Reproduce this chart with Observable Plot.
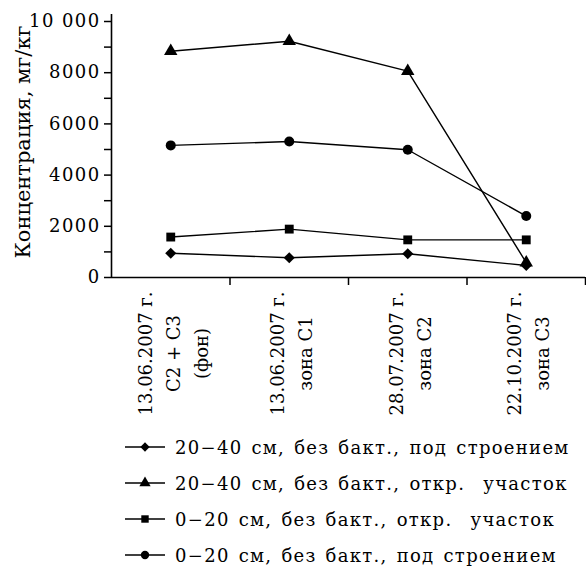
<!DOCTYPE html>
<html><head><meta charset="utf-8">
<script src="https://cdn.jsdelivr.net/npm/d3@7"></script>
<script src="https://cdn.jsdelivr.net/npm/@observablehq/plot@0.6"></script>
<style>
body{margin:0;background:#fff;font-family:"DejaVu Serif","Liberation Serif",serif;color:#000;}
#legend{padding-top:4px;}
.row{display:flex;align-items:center;height:36px;padding-left:125px;font-size:18px;letter-spacing:1.3px;word-spacing:2px;white-space:pre;}
.row svg{margin-right:10px;}
#chart g[aria-label="y-axis tick label"] text{letter-spacing:1.4px;}
#chart g[aria-label="xlabels"]{letter-spacing:0.4px;}
#chart g[aria-label="ytitle"]{letter-spacing:2px;word-spacing:5px;}
</style></head><body>
<div id="chart"></div><div id="legend"></div>
<script>
const categories = [
  "13.06.2007 г.\nС2 + С3\n(фон)",
  "13.06.2007 г.\nзона С1",
  "28.07.2007 г.\nзона С2",
  "22.10.2007 г.\nзона С3"
];
const seriesNames = [
  "20−40 см, без бакт., под строением",
  "20−40 см, без бакт., откр.  участок",
  "0−20 см, без бакт., откр.  участок",
  "0−20 см, без бакт., под строением"
];
const seriesSymbols = ["diamond2", "triangle", "square", "circle"];
const diamondValues  = [950, 770, 930, 470];
const triangleValues = [8840, 9230, 8060, 580];
const squareValues   = [1580, 1890, 1470, 1470];
const circleValues   = [5160, 5310, 4990, 2400];
const yTicks = [0, 1000, 2000, 3000, 4000, 5000, 6000, 7000, 8000, 9000, 10000];
const yLabelTicks = [0, 2000, 4000, 6000, 8000, 10000];
const yTitle = "Концентрация, мг/кг";

const FONT = '"DejaVu Serif", "Liberation Serif", serif';
const valueArrays = [diamondValues, triangleValues, squareValues, circleValues];
const drawOrder = [1, 3, 2, 0];
const data = [];
for (const k of drawOrder) valueArrays[k].forEach((v, i) => data.push({series: seriesNames[k], i, v}));
const xBoundaries = categories.map((c, i) => i + 0.5);
const fmt = d => yLabelTicks.includes(d) ? (d >= 10000 ? "10 000" : String(d)) : "";

const chart = Plot.plot({
  width: 586, height: 425,
  marginLeft: 111, marginRight: 1, marginTop: 14, marginBottom: 148,
  style: `font-family: ${FONT}; font-size: 18px; color: #000; background: #fff;`,
  x: {domain: [-0.5, categories.length - 0.5]},
  y: {domain: [0, 10000], insetTop: 7},
  symbol: {domain: seriesNames, range: seriesSymbols},
  marks: [
    Plot.axisY({ticks: yTicks, tickSize: 7, tickPadding: 4, tickFormat: fmt, strokeWidth: 1.5, label: null, fontFamily: FONT}),
    Plot.axisX({ticks: xBoundaries, tickSize: 8, tickFormat: () => "", strokeWidth: 1.5, label: null}),
    Plot.ruleY([0], {strokeWidth: 1.6}),
    Plot.ruleX([-0.5], {strokeWidth: 1.6}),
    Plot.line(data, {x: "i", y: "v", z: "series", stroke: "#000", strokeWidth: 1.4}),
    Plot.dot(data, {x: "i", y: "v", symbol: "series", fill: "#000", stroke: "none", r: 5}),
    Plot.text(categories, {x: (d, i) => i, frameAnchor: "bottom", dy: 76, rotate: -90, ariaLabel: "xlabels",
      textAnchor: "middle", lineAnchor: "middle", lineHeight: 1.55, fontSize: 18, fontFamily: FONT, fill: "#000"}),
    Plot.text([yTitle], {frameAnchor: "left", rotate: -90, dx: -88, dy: -4, textAnchor: "middle", ariaLabel: "ytitle",
      fontSize: 21, fontFamily: FONT, fill: "#000"})
  ]
});
document.getElementById("chart").appendChild(chart);

const symMap = {diamond2: d3.symbolDiamond2, triangle: d3.symbolTriangle, square: d3.symbolSquare, circle: d3.symbolCircle};
const legend = d3.select("#legend");
seriesNames.forEach((name, k) => {
  const row = legend.append("div").attr("class", "row");
  const svg = row.append("svg").attr("width", 40).attr("height", 16);
  svg.append("line").attr("x1", 0).attr("x2", 40).attr("y1", 8).attr("y2", 8).attr("stroke", "#000").attr("stroke-width", 1.4);
  svg.append("path").attr("transform", "translate(20,8)").attr("d", d3.symbol(symMap[seriesSymbols[k]], 55)()).attr("fill", "#000");
  row.append("span").text(name);
});
</script>
</body></html>
